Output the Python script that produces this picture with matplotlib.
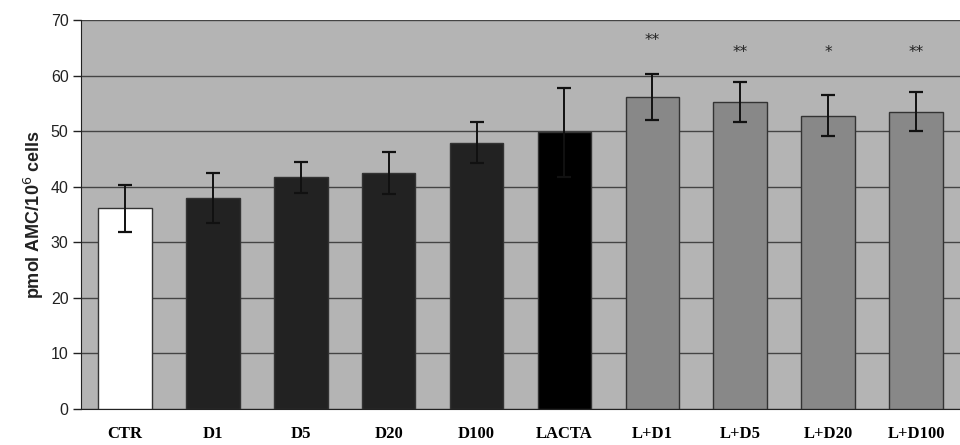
import numpy as np
import matplotlib
matplotlib.use("Agg")
import matplotlib.pyplot as plt

# Data
groups = ["CTR", "D1", "D5", "D20", "D100", "LACTA", "L+D1", "L+D5", "L+D20", "L+D100"]
means = [36.1, 37.9, 41.7, 42.4, 47.9, 49.8, 56.1, 55.2, 52.8, 53.5]
errors = [4.2, 4.5, 2.8, 3.8, 3.7, 8.0, 4.1, 3.6, 3.7, 3.5]
stars = ["", "", "", "", "", "", "**", "**", "*", "**"]
star_y = [0, 0, 0, 0, 0, 0, 66.3, 64.2, 64.2, 64.2]
colors = ["#ffffff"] + ["#222222"] * 4 + ["#000000"] + ["#888888"] * 4

fig = plt.figure(figsize=(9.6, 4.45), dpi=100)
ax = fig.add_axes([0.0844, 0.081, 0.9156, 0.874])
ax.set_facecolor("#b4b4b4")

x = np.arange(len(groups))
ax.bar(x, means, width=0.61, color=colors, edgecolor="#333333", linewidth=1.0, zorder=3)
ax.errorbar(x, means, yerr=errors, fmt="none", ecolor="#111111",
            elinewidth=1.4, capsize=5, capthick=1.6, zorder=4)

for xi, s, sy in zip(x, stars, star_y):
    if s:
        ax.text(xi, sy, s, ha="center", va="center", fontsize=11,
                family="DejaVu Sans", color="#222222")

ax.set_xlim(-0.5, len(groups) - 0.5)
ax.set_ylim(0, 70)
ax.set_yticks(range(0, 71, 10))
ax.yaxis.grid(True, color="#444444", linewidth=1.0, zorder=1)
ax.set_axisbelow(True)

ax.set_xticks(x)
ax.set_xticklabels(groups, family="Liberation Serif", fontsize=12, fontweight="bold")
ax.tick_params(axis="x", length=0, pad=12)
ax.tick_params(axis="y", length=6, width=1, direction="out", labelsize=11.5,
               colors="#222222", pad=3)
for lbl in ax.get_yticklabels():
    lbl.set_family("Liberation Sans")

for side in ["top", "right"]:
    ax.spines[side].set_visible(False)
ax.spines["left"].set_color("#222222")
ax.spines["bottom"].set_color("#222222")

ax.set_ylabel("pmol AMC/10$^6$ cells", family="Liberation Sans", fontsize=13,
              fontweight="bold", labelpad=3, color="#222222")

fig.savefig("out.png", dpi=100)
